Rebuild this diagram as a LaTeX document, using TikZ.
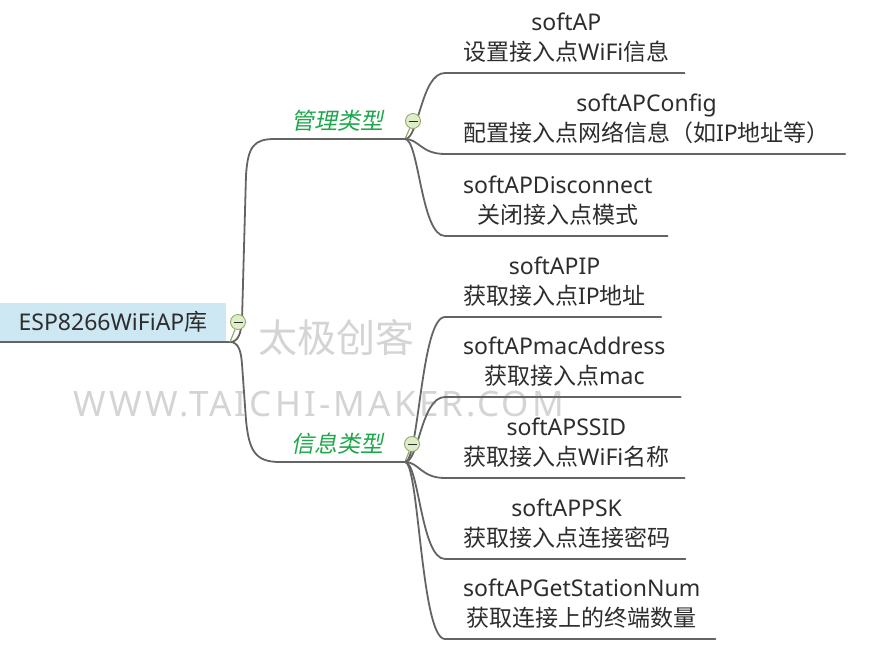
\documentclass[tikz,border=0pt]{standalone}
\usepackage{fontspec}
\setmainfont{Noto Sans}
\newfontfamily\cjkf{Noto Sans CJK SC}
\newfontfamily\cjkslant{Noto Sans CJK SC}[FakeSlant=0.2]
\newfontfamily\wmfont{Noto Sans}[LetterSpace=9]
\newcommand\zhtxt[1]{{\cjkf #1}}
\usetikzlibrary{calc}
\pgfdeclarelayer{wmlayer}
\pgfdeclarelayer{linelayer}
\pgfsetlayers{wmlayer,linelayer,main}
\definecolor{branchgray}{RGB}{100,100,100}
\definecolor{txtdark}{RGB}{45,45,45}
\definecolor{rootblue}{RGB}{206,232,243}
\definecolor{labgreen}{RGB}{30,168,75}
\definecolor{knobfill}{RGB}{222,238,200}
\definecolor{knobdraw}{RGB}{150,170,110}
\definecolor{wmgray}{RGB}{212,212,212}
\newcommand\twig[2]{\draw[branch] (#1) .. controls +(14,0) and +(-24,0) .. ($(#2.south west)+(-18,3)$) -- ($(#2.south east)+(15,3)$);}
\begin{document}
\begin{tikzpicture}[x=1pt,y=-1pt,
  branch/.style={draw=branchgray, line width=1.8pt, line cap=round},
  item/.style={anchor=south west, inner sep=0pt, align=center, text=txtdark,
    font=\fontsize{23pt}{30pt}\selectfont},
  rootbox/.style={rectangle, fill=rootblue, inner sep=0pt, minimum width=226pt,
    minimum height=38pt, text=txtdark, font=\fontsize{23pt}{30pt}\selectfont},
  grouplabel/.style={anchor=base, inner sep=0pt, text=labgreen,
    font=\fontsize{23pt}{28pt}\cjkslant},
  knob/.style={circle, draw=knobdraw, fill=knobfill, line width=0.9pt,
    minimum size=15pt, inner sep=0pt,
    path picture={\draw[txtdark, line width=0.8pt]
      ([xshift=-4.5pt]path picture bounding box.center) --
      ([xshift=4.5pt]path picture bounding box.center);}},
  stub/.style={draw=knobdraw, line width=1.2pt},
  wmark/.style={anchor=base, inner sep=0pt, text=wmgray}
]
\useasboundingbox (0,0) rectangle (879,651);

% background and watermark
\begin{pgfonlayer}{wmlayer}
\fill[white] (0,0) rectangle (879,651);
\node[wmark, font=\fontsize{39pt}{42pt}\cjkf] (wm1) at (336,352) {太极创客};
\node[wmark, font=\fontsize{35pt}{40pt}\wmfont] (wm2) at (319,416) {WWW.TAICHI-MAKER.COM};
\end{pgfonlayer}

% root
\node[rootbox] (root) at (113,322) {ESP8266WiFiAP\zhtxt{库}};
\coordinate (rootj) at (230,342);
\coordinate (j1) at (405,139);
\coordinate (j2) at (405,462);

% group labels
\node[grouplabel] (lab1) at (337,129) {管理类型};
\node[grouplabel] (lab2) at (337,452) {信息类型};

% items
\node[item] (softap) at (463,70) {softAP\\\zhtxt{设置接入点}WiFi\zhtxt{信息}\strut};
\node[item] (softapconfig) at (463,151) {softAPConfig\\\zhtxt{配置接入点网络信息（如}IP\zhtxt{地址等）}\strut};
\node[item] (softapdisc) at (463,233) {softAPDisconnect\\\zhtxt{关闭接入点模式}\strut};
\node[item] (softapip) at (463,314) {softAPIP\\\zhtxt{获取接入点}IP\zhtxt{地址}\strut};
\node[item] (softapmac) at (463,394) {softAPmacAddress\\\zhtxt{获取接入点}mac\strut};
\node[item] (softapssid) at (463,475) {softAPSSID\\\zhtxt{获取接入点}WiFi\zhtxt{名称}\strut};
\node[item] (softappsk) at (463,556) {softAPPSK\\\zhtxt{获取接入点连接密码}\strut};
\node[item] (softapnum) at (463,636) {softAPGetStationNum\\\zhtxt{获取连接上的终端数量}\strut};

% knobs
\node[knob] (k0) at (238,322) {};
\node[knob] (k1) at (413,121) {};
\node[knob] (k2) at (412,444) {};

\begin{pgfonlayer}{linelayer}
% root underline and trunk
\draw[branch] (root.south west |- rootj) -- (rootj);
\draw[branch] (rootj) .. controls +(8,0) and +(-1,14) .. (242,320) -- (246,175)
  .. controls (248,146) and (254,139) .. (275,139) -- (j1);
\draw[branch] (rootj) .. controls +(8,0) and +(-1,-14) .. (242,364) -- (246,420)
  .. controls (249,452) and (256,462) .. (280,462) -- (j2);
% stubs to knobs
\draw[stub] (rootj) -- (k0);
\draw[stub] (j1) -- (k1);
\draw[stub] (j2) -- (k2);
% branches
\twig{j1}{softap}
\twig{j1}{softapconfig}
\twig{j1}{softapdisc}
\twig{j2}{softapip}
\twig{j2}{softapmac}
\twig{j2}{softapssid}
\twig{j2}{softappsk}
\twig{j2}{softapnum}
\end{pgfonlayer}
\end{tikzpicture}
\end{document}
